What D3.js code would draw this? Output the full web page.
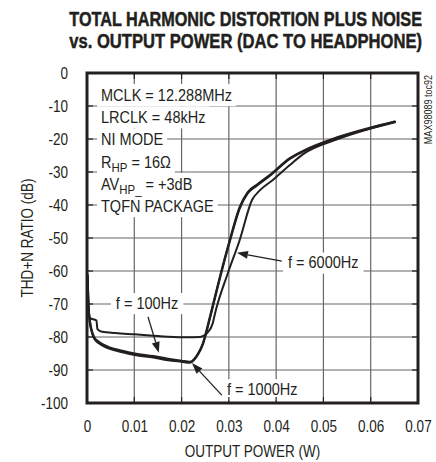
<!DOCTYPE html>
<html><head><meta charset="utf-8">
<script src="https://cdn.jsdelivr.net/npm/d3@7"></script>
<style>
html,body{margin:0;padding:0;background:#fff;}
svg{display:block;}
text{font-family:"Liberation Sans",Arial,sans-serif;fill:#231f20;}
</style></head>
<body>
<svg id="chart" width="436" height="462"></svg>
<script>
// ---------- data ----------
const titleLines = ["TOTAL HARMONIC DISTORTION PLUS NOISE", "vs. OUTPUT POWER (DAC TO HEADPHONE)"];
const xTickValues = [0, 0.01, 0.02, 0.03, 0.04, 0.05, 0.06, 0.07];
const xTickLabels = ["0", "0.01", "0.02", "0.03", "0.04", "0.05", "0.06", "0.07"];
const yTickValues = [0, -10, -20, -30, -40, -50, -60, -70, -80, -90, -100];
const yTickLabels = ["0", "-10", "-20", "-30", "-40", "-50", "-60", "-70", "-80", "-90", "-100"];
const xTitle = "OUTPUT POWER (W)";
const yTitle = "THD+N RATIO (dB)";
const docId = "MAX98089 toc92";

// f = 100Hz
const power100 = [0.0001,0.0003,0.0006,0.0010,0.0015,0.0025,0.0045,0.0075,0.0101,0.0140,0.0171,0.0200,0.0218,0.0226,0.0235,0.0245,0.0260,0.0281,0.0302,0.0323,0.0340,0.0359,0.0387,0.0429,0.0457,0.0529,0.0598,0.0651];
const thd100   = [-61,-70,-75,-78,-80,-81.5,-83,-84.2,-85,-85.8,-86.6,-87.2,-87.5,-86.8,-85,-82,-73.9,-61.8,-50.6,-40.6,-36.1,-33.9,-30.9,-25.8,-23.6,-19.5,-16.6,-14.7];
// f = 1000Hz
const power1000 = [0.0001,0.0003,0.0006,0.0010,0.0015,0.0025,0.0045,0.0075,0.0101,0.0140,0.0171,0.0200,0.0218,0.0226,0.0235,0.0245,0.0260,0.0281,0.0302,0.0323,0.0340,0.0359,0.0387,0.0429,0.0457,0.0529,0.0598,0.0651];
const thd1000   = [-61.5,-70.5,-75.5,-78.4,-80.4,-81.9,-83.4,-84.6,-85.4,-86.2,-87,-87.5,-87.8,-87,-85.2,-82.2,-74.3,-62.2,-51,-41,-36.4,-34.1,-31.1,-26,-23.8,-19.7,-16.8,-14.8];
// f = 6000Hz
const power6000 = [0.0001,0.0003,0.0006,0.0020,0.0022,0.0032,0.0060,0.0101,0.0140,0.0171,0.0210,0.0239,0.0248,0.0254,0.0266,0.0271,0.0298,0.0323,0.0349,0.0366,0.0393,0.0429,0.0457,0.0529,0.0598,0.0651];
const thd6000   = [-62,-70,-74.2,-75,-77.6,-78.4,-78.8,-79.2,-79.6,-79.9,-80.1,-80,-79.5,-78.8,-75.8,-72.7,-60.6,-50.6,-38.5,-35.5,-32.4,-27.9,-24.6,-20.1,-16.9,-14.9];

// conditions text (|...| marks a subscript)
const condLines = ["MCLK = 12.288MHz", "LRCLK = 48kHz", "NI MODE", "R|HP| = 16Ω", "AV|HP_| = +3dB", "TQFN PACKAGE"];

// curve labels: baseline start in data units; arrow tail and tip in data units
const curveLabels = ["f = 100Hz", "f = 1000Hz", "f = 6000Hz"];
const labelPos = [[0.0061, -71.5], [0.0296, -97.6], [0.0425, -59.2]];
const arrowTail = [[0.0129, -73.9], [0.0285, -97.6], [0.0412, -57.0]];
const arrowTip  = [[0.0152, -84.8], [0.0222, -87.9], [0.0317, -54.5]];

// ---------- chart ----------
const SX = 0.82;   // condensed look for numbers / axis titles
const SXA = 0.88;  // annotation text
const svg = d3.select("#chart");
svg.append("rect").attr("width", 436).attr("height", 462).attr("fill", "#fff");

const x = d3.scaleLinear().domain([0, 0.07]).range([87, 418]);
const y = d3.scaleLinear().domain([-100, 0]).range([403, 73]);

function ctext(parent, X, Y, size, anchor, sx) {
  sx = sx || SX;
  return parent.append("text")
    .attr("transform", `translate(${X},${Y}) scale(${sx},1)`)
    .attr("text-anchor", anchor || "start")
    .style("font-size", size + "px");
}
function realBox(X, Y, node, sx) {
  sx = sx || SX;
  const bb = node.getBBox();
  return {x: X + bb.x * sx, y: Y + bb.y, width: bb.width * sx, height: bb.height};
}

// title (heavy condensed)
titleLines.forEach((line, i) => {
  const t = svg.append("text").attr("text-anchor", "end")
    .style("font-size", "20.5px").style("font-weight", "bold")
    .attr("stroke", "#231f20").attr("stroke-width", 0.5).text(line);
  const len = t.node().getComputedTextLength();
  const sx = 353 / len;
  t.attr("transform", `translate(422,${26 + i * 22}) scale(${sx},1)`);
});

// grid
const grid = svg.append("g").attr("stroke", "#666").attr("stroke-width", 1.2);
grid.selectAll("line.v").data(xTickValues.slice(1, -1)).enter().append("line")
  .attr("x1", d => x(d)).attr("x2", d => x(d)).attr("y1", y(0)).attr("y2", y(-100));
grid.selectAll("line.h").data(yTickValues.slice(1, -1)).enter().append("line")
  .attr("x1", x(0)).attr("x2", x(0.07)).attr("y1", d => y(d)).attr("y2", d => y(d));

const bgLayer = svg.append("g");
const tickLayer = svg.append("g");
const curveLayer = svg.append("g");
const textLayer = svg.append("g");

// conditions block
condLines.forEach((line, i) => {
  const X = 101, Y = 101 + i * 22.2;
  const t = ctext(textLayer, X, Y, 16.5, "start", SXA);
  const parts = line.split("|");
  parts.forEach((p, k) => {
    if (k % 2 === 1) {
      t.append("tspan").attr("dy", 4).style("font-size", "13px").text(p);
    } else {
      const ts = t.append("tspan").text(p);
      if (k > 0) ts.attr("dy", -4);
    }
  });
  const bb = realBox(X, Y, t.node(), SXA);
  bgLayer.append("rect").attr("x", bb.x - 4).attr("y", bb.y - 2).attr("width", bb.width + 8).attr("height", bb.height + 4).attr("fill", "#fff");
});

// inner frame ticks
const tl = 6;
tickLayer.attr("stroke", "#231f20").attr("stroke-width", 1.2);
xTickValues.slice(1, -1).forEach(v => {
  tickLayer.append("line").attr("x1", x(v)).attr("x2", x(v)).attr("y1", y(0)).attr("y2", y(0) + tl);
  tickLayer.append("line").attr("x1", x(v)).attr("x2", x(v)).attr("y1", y(-100)).attr("y2", y(-100) - tl);
});
yTickValues.slice(1, -1).forEach(v => {
  tickLayer.append("line").attr("x1", x(0)).attr("x2", x(0) + tl).attr("y1", y(v)).attr("y2", y(v));
  tickLayer.append("line").attr("x1", x(0.07)).attr("x2", x(0.07) - tl).attr("y1", y(v)).attr("y2", y(v));
});

// curves
const lineGen = d3.line().x(d => x(d[0])).y(d => y(d[1])).curve(d3.curveMonotoneX);
const series = [
  {p: power100, v: thd100, w: 2.2},
  {p: power1000, v: thd1000, w: 2.2},
  {p: power6000, v: thd6000, w: 2.0}
];
series.forEach(s => {
  curveLayer.append("path").datum(s.p.map((p, i) => [p, s.v[i]]))
    .attr("d", lineGen).attr("fill", "none").attr("stroke", "#231f20")
    .attr("stroke-width", s.w).attr("stroke-linejoin", "round").attr("stroke-linecap", "round");
});

// curve labels + arrows
curveLabels.forEach((lab, i) => {
  const X = x(labelPos[i][0]), Y = y(labelPos[i][1]);
  const t = ctext(textLayer, X, Y, 16.5, "start", SXA).text(lab);
  const bb = realBox(X, Y, t.node(), SXA);
  bgLayer.append("rect").attr("x", bb.x - 5).attr("y", bb.y - 1).attr("width", bb.width + 10).attr("height", bb.height + 3).attr("fill", "#fff");
  const x1 = x(arrowTail[i][0]), y1 = y(arrowTail[i][1]);
  const x2 = x(arrowTip[i][0]), y2 = y(arrowTip[i][1]);
  const ang = Math.atan2(y2 - y1, x2 - x1);
  const L = 11, W = 4;
  const bx = x2 - L * Math.cos(ang), by = y2 - L * Math.sin(ang);
  textLayer.append("line").attr("x1", x1).attr("y1", y1).attr("x2", bx).attr("y2", by)
    .attr("stroke", "#231f20").attr("stroke-width", 1.3);
  textLayer.append("path")
    .attr("d", `M${x2},${y2}L${bx + W * Math.sin(ang)},${by - W * Math.cos(ang)}L${bx - W * Math.sin(ang)},${by + W * Math.cos(ang)}Z`)
    .attr("fill", "#231f20");
});

// frame
svg.append("rect").attr("x", x(0)).attr("y", y(0)).attr("width", x(0.07) - x(0)).attr("height", y(-100) - y(0))
  .attr("fill", "none").attr("stroke", "#231f20").attr("stroke-width", 3);

// axes
const xAxis = d3.axisBottom(x).tickValues(xTickValues).tickFormat((d, i) => xTickLabels[i]).tickSize(0).tickPadding(17);
const gx = svg.append("g").attr("transform", `translate(0,${y(-100)})`).call(xAxis);
gx.attr("font-family", null).attr("font-size", null);
gx.select(".domain").remove();
gx.selectAll("text").style("font-size", "16.5px").attr("fill", "#231f20").attr("transform", `scale(${SX},1)`);

const yAxis = d3.axisLeft(y).tickValues(yTickValues).tickFormat((d, i) => yTickLabels[i]).tickSize(0).tickPadding(19);
const gy = svg.append("g").attr("transform", `translate(${x(0)},0)`).call(yAxis);
gy.attr("font-family", null).attr("font-size", null);
gy.select(".domain").remove();
gy.selectAll("text").style("font-size", "16.5px").attr("fill", "#231f20")
  .attr("x", -19 / SX).attr("transform", `scale(${SX},1)`);

// axis titles
ctext(svg, (x(0) + x(0.07)) / 2, 457, 16.5, "middle").text(xTitle);
svg.append("text").attr("transform", `translate(33,${(y(0) + y(-100)) / 2}) rotate(-90) scale(${SX},1)`)
  .attr("text-anchor", "middle").style("font-size", "16.5px").text(yTitle);

// doc id
svg.append("text").attr("transform", `translate(432,75) rotate(-90) scale(${SX},1)`).attr("text-anchor", "end")
  .style("font-size", "11px").text(docId);
</script>
</body></html>
